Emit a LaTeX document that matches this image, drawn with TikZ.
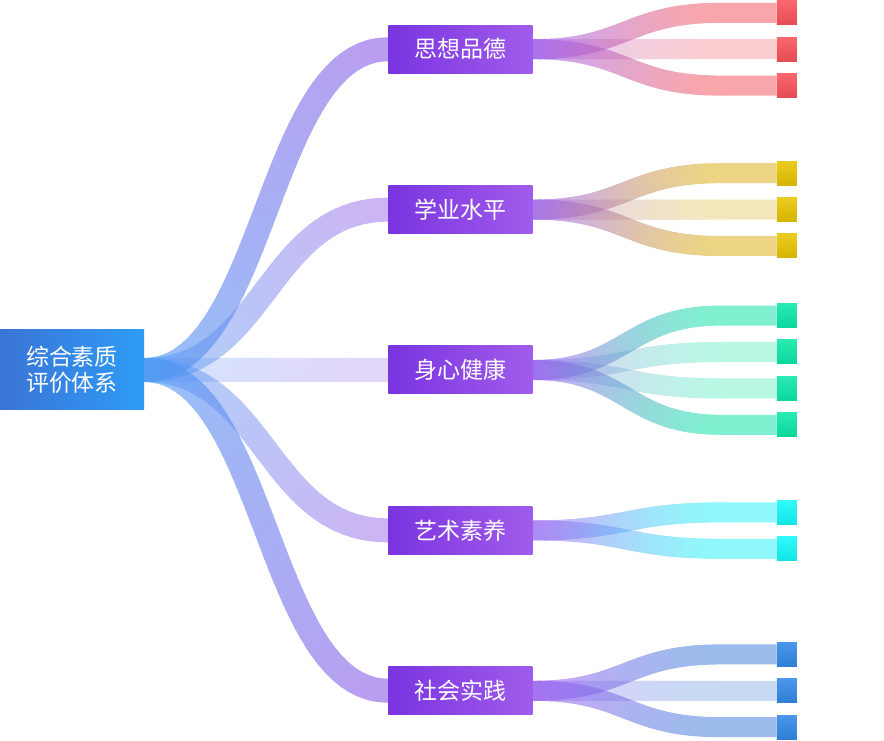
\documentclass[tikz,border=0pt]{standalone}
\usepackage{fontspec}
\usepackage{tikz}
\usetikzlibrary{positioning, calc, backgrounds}
\newfontfamily\cjk{Noto Sans CJK SC}
\definecolor{rootleft}{HTML}{3A74D6}
\definecolor{rootright}{HTML}{2E9CF6}
\definecolor{catleft}{HTML}{7A34E0}
\definecolor{catright}{HTML}{A05CEB}
\definecolor{flowblue}{HTML}{4A9CF4}
\definecolor{flowpurple}{HTML}{8B5CE6}
\definecolor{branchpurple}{HTML}{9B5CF0}
\definecolor{moralred}{HTML}{F25D66}
\definecolor{studygold}{HTML}{DCB01F}
\definecolor{healthgreen}{HTML}{18E3A9}
\definecolor{artcyan}{HTML}{21F1F9}
\definecolor{socialblue}{HTML}{4985DC}
\definecolor{moralleaf}{HTML}{F8525A}
\definecolor{studyleaf}{HTML}{E8C400}
\definecolor{healthleaf}{HTML}{0CE8A8}
\definecolor{artleaf}{HTML}{14F8FA}
\definecolor{socialleaf}{HTML}{3388E8}

% ribbon: from, to, start colour, end colour, opacity, width, straight tail
\newcommand\ribbon[7]{%
  \begin{scope}[transparency group, opacity=#5]
    \coordinate (rb-a) at (#1);
    \coordinate (rb-end) at ($(#2)+(-#7,0)$);
    \coordinate (rb-mid) at ($(rb-a)!.5!(rb-end)$);
    \path (rb-a) .. controls (rb-mid |- rb-a) and (rb-mid |- rb-end) .. (rb-end)
      foreach \k in {0,...,40} {coordinate[pos=\k/40] (rb-\k)};
    \foreach \k [remember=\k as \j (initially 0),
        evaluate=\k as \mix using int(100-2.5*\k)] in {1,...,40}
      \draw[line width=#6, line cap=round, color=#3!\mix!#4] (rb-\j) -- (rb-\k);
    \draw[line width=#6, color=#4] (rb-end) -- (#2);
  \end{scope}}

\begin{document}
\begin{tikzpicture}[x=1pt, y=1pt,
    every node/.style={font=\cjk\fontsize{23}{26}\selectfont, text=white, inner sep=0pt},
    rootbox/.style={rectangle, minimum width=144pt, minimum height=80pt,
      align=center, left color=rootleft, right color=rootright},
    catbox/.style={rectangle, minimum width=144pt, minimum height=48pt,
      left color=catleft, right color=catright},
    leafbox/.style={rectangle, minimum width=20pt, minimum height=24pt,
      top color=#1!88!white, bottom color=#1!92!black}]
  \useasboundingbox (0,0) rectangle (884,740);

  \node[rootbox] (root) at (72,370) {综合素质\\评价体系};
  \node[catbox, right=244pt of root] (health) {身心健康};
  \node[catbox, above=112pt of health] (study) {学业水平};
  \node[catbox, above=112pt of study] (moral) {思想品德};
  \node[catbox, below=112pt of health] (art) {艺术素养};
  \node[catbox, below=112pt of art] (social) {社会实践};

  \node[leafbox=moralleaf, right=244pt of moral] (m2) {};
  \node[leafbox=moralleaf, above=12pt of m2] (m1) {};
  \node[leafbox=moralleaf, below=12pt of m2] (m3) {};
  \node[leafbox=studyleaf, right=244pt of study] (s2) {};
  \node[leafbox=studyleaf, above=12pt of s2] (s1) {};
  \node[leafbox=studyleaf, below=12pt of s2] (s3) {};
  \node[leafbox=healthleaf, right=244pt of health, yshift=18pt] (h2) {};
  \node[leafbox=healthleaf, above=12pt of h2] (h1) {};
  \node[leafbox=healthleaf, below=12pt of h2] (h3) {};
  \node[leafbox=healthleaf, below=12pt of h3] (h4) {};
  \node[leafbox=artleaf, right=244pt of art, yshift=18pt] (a1) {};
  \node[leafbox=artleaf, below=12pt of a1] (a2) {};
  \node[leafbox=socialleaf, right=244pt of social] (p2) {};
  \node[leafbox=socialleaf, above=12pt of p2] (p1) {};
  \node[leafbox=socialleaf, below=12pt of p2] (p3) {};

  \begin{scope}[on background layer]
    \foreach \cat/\op in {health/.25, study/.45, art/.45, moral/.6, social/.6}
      \ribbon{root.east}{\cat.west}{flowblue}{flowpurple}{\op}{24pt}{0};
    \foreach \cat/\leaf/\col/\op in {moral/m2/moralred/.3, moral/m1/moralred/.55,
        moral/m3/moralred/.55, study/s2/studygold/.3, study/s1/studygold/.55,
        study/s3/studygold/.55, health/h2/healthgreen/.3, health/h3/healthgreen/.3,
        health/h1/healthgreen/.55, health/h4/healthgreen/.55, art/a1/artcyan/.5,
        art/a2/artcyan/.5, social/p2/socialblue/.3, social/p1/socialblue/.55,
        social/p3/socialblue/.55}
      \ribbon{\cat.east}{\leaf.west}{branchpurple}{\col}{\op}{20pt}{56};
  \end{scope}
\end{tikzpicture}
\end{document}
